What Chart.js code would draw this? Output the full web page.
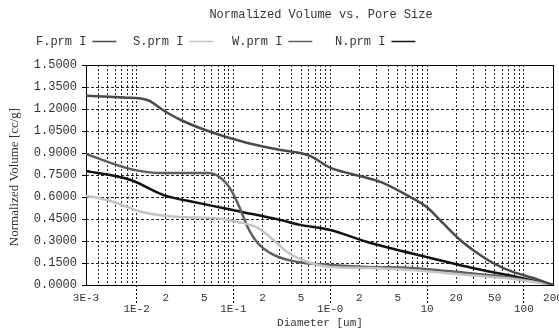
<!DOCTYPE html>
<html>
<head>
<meta charset="utf-8">
<script src="https://cdn.jsdelivr.net/npm/chart.js@4.4.0/dist/chart.umd.min.js"></script>
<style>
  html, body { margin: 0; padding: 0; background: #fff; }
</style>
</head>
<body>
<canvas id="myChart" width="559" height="331"></canvas>
<script>
// series: diameter [um] / normalized volume [cc/g]
const seriesNames = ['F.prm I', 'S.prm I', 'W.prm I', 'N.prm I'];
const seriesColors = ['#4a4a4a', '#c4c4c4', '#5e5e5e', '#121212'];

const fDiam = [0.003, 0.0045, 0.0075, 0.0131, 0.019, 0.0286, 0.0627, 0.14, 0.307, 0.49, 0.62, 1.0, 2.42, 3.54, 6.7, 10, 14.7, 22, 33, 48, 77, 125, 200];
const fVol  = [1.29, 1.285, 1.278, 1.26, 1.19, 1.125, 1.036, 0.968, 0.92, 0.90, 0.88, 0.80, 0.73, 0.695, 0.60, 0.53, 0.42, 0.307, 0.218, 0.15, 0.089, 0.048, 0.0];

const sDiam = [0.003, 0.0036, 0.0058, 0.011, 0.0286, 0.0627, 0.11, 0.178, 0.26, 0.36, 0.58, 1.0, 2.42, 6.7, 26, 77, 200];
const sVol  = [0.607, 0.60, 0.566, 0.50, 0.464, 0.457, 0.43, 0.39, 0.307, 0.225, 0.157, 0.123, 0.116, 0.102, 0.068, 0.041, 0.0];

const wDiam = [0.003, 0.0087, 0.019, 0.054, 0.074, 0.094, 0.119, 0.14, 0.178, 0.26, 0.46, 1.0, 2.42, 6.7, 26, 77, 200];
const wVol  = [0.893, 0.79, 0.763, 0.763, 0.73, 0.65, 0.51, 0.395, 0.286, 0.205, 0.157, 0.136, 0.123, 0.116, 0.082, 0.048, 0.0];

const nDiam = [0.003, 0.0087, 0.019, 0.043, 0.119, 0.307, 0.49, 1.0, 2.42, 10, 38, 85, 200];
const nVol  = [0.777, 0.716, 0.613, 0.56, 0.50, 0.443, 0.41, 0.375, 0.293, 0.19, 0.10, 0.055, 0.0];

// axes
const yTicks = [0, 0.15, 0.3, 0.45, 0.6, 0.75, 0.9, 1.05, 1.2, 1.35, 1.5];
const xGrid = [0.003, 0.004, 0.005, 0.006, 0.007, 0.008, 0.009,
               0.01, 0.02, 0.03, 0.04, 0.05, 0.06, 0.07, 0.08, 0.09,
               0.1, 0.2, 0.3, 0.4, 0.5, 0.6, 0.7, 0.8, 0.9,
               1, 2, 3, 4, 5, 6, 7, 8, 9,
               10, 20, 30, 40, 50, 60, 70, 80, 90,
               100, 200];
const xMajors = [0.01, 0.1, 1, 10, 100];
const xLabelValues = [0.003, 0.01, 0.02, 0.05, 0.1, 0.2, 0.5, 1, 2, 5, 10, 20, 50, 100, 200];
const xLabelTexts  = ['3E-3', '1E-2', '2', '5', '1E-1', '2', '5', '1E-0', '2', '5', '10', '20', '50', '100', '200'];
const xLabelRows   = [0, 1, 0, 0, 1, 0, 0, 1, 0, 0, 1, 0, 0, 1, 0];

const mono = '"Liberation Mono", "DejaVu Sans Mono", monospace';

function toPoints(d, v) {
  return d.map((x, i) => ({ x: x, y: v[i] }));
}

const decor = {
  id: 'decor',
  beforeDatasetsDraw(chart) {
    const a = chart.chartArea;
    const ctx = chart.ctx;
    ctx.save();
    ctx.strokeStyle = '#000';
    ctx.lineWidth = 1;
    ctx.strokeRect(Math.round(a.left) + 0.5, Math.round(a.top) + 0.5,
      Math.round(a.right - a.left), Math.round(a.bottom - a.top));
    ctx.restore();
  },
  afterDraw(chart) {
    const ctx = chart.ctx;
    const xs = chart.scales.x;
    const a = chart.chartArea;
    ctx.save();
    ctx.fillStyle = '#333';
    ctx.textBaseline = 'middle';

    // title
    ctx.font = '12px ' + mono;
    ctx.textAlign = 'center';
    ctx.fillText('Normalized Volume vs. Pore Size', 321, 15);

    // legend
    const legX = [36, 133, 232, 335];
    ctx.textAlign = 'left';
    seriesNames.forEach((name, i) => {
      ctx.fillStyle = '#333';
      ctx.fillText(name, legX[i], 42);
      const w = ctx.measureText(name).width;
      ctx.strokeStyle = seriesColors[i];
      ctx.lineWidth = 1.5;
      ctx.beginPath();
      ctx.moveTo(legX[i] + w + 6, 41.5);
      ctx.lineTo(legX[i] + w + 30, 41.5);
      ctx.stroke();
    });

    // x tick labels, two rows
    ctx.fillStyle = '#333';
    ctx.font = '11px ' + mono;
    ctx.textAlign = 'center';
    xLabelValues.forEach((v, i) => {
      const px = xs.getPixelForValue(v);
      ctx.fillText(xLabelTexts[i], px, xLabelRows[i] ? a.bottom + 24 : a.bottom + 13);
    });

    // axis titles
    ctx.font = '11px ' + mono;
    ctx.fillText('Diameter [um]', 320, 323);
    ctx.font = '13px "Liberation Serif", "DejaVu Serif", serif';
    ctx.translate(15, 177);
    ctx.rotate(-Math.PI / 2);
    ctx.fillText('Normalized Volume [cc/g]', 0, 0);
    ctx.restore();
  }
};

const datasets = [
  { label: seriesNames[0], data: toPoints(fDiam, fVol), borderColor: seriesColors[0] },
  { label: seriesNames[1], data: toPoints(sDiam, sVol), borderColor: seriesColors[1] },
  { label: seriesNames[2], data: toPoints(wDiam, wVol), borderColor: seriesColors[2] },
  { label: seriesNames[3], data: toPoints(nDiam, nVol), borderColor: seriesColors[3] },
].map(ds => Object.assign(ds, {
  borderWidth: 2.5,
  pointRadius: 0,
  fill: false,
  cubicInterpolationMode: 'monotone'
}));

const ctx = document.getElementById('myChart').getContext('2d');
new Chart(ctx, {
  type: 'line',
  data: { datasets: datasets },
  options: {
    responsive: false,
    animation: false,
    devicePixelRatio: 1,
    layout: { padding: { top: 65, right: 6, left: 0, bottom: 0 } },
    plugins: {
      legend: { display: false },
      title: { display: false },
      tooltip: { enabled: false }
    },
    scales: {
      x: {
        type: 'logarithmic',
        min: 0.003,
        max: 200,
        afterBuildTicks: scale => { scale.ticks = xGrid.map(v => ({ value: v })); },
        afterFit: scale => { scale.height = 46; },
        ticks: { display: false },
        grid: {
          color: '#222',
          lineWidth: 1,
          tickLength: 19,
          tickBorderDash: [2, 2],
          tickColor: c => (c.tick && xMajors.includes(c.tick.value)) ? '#000' : 'rgba(0,0,0,0)'
        },
        border: { display: false, dash: [2, 2] }
      },
      y: {
        type: 'linear',
        min: 0,
        max: 1.5,
        afterBuildTicks: scale => { scale.ticks = yTicks.map(v => ({ value: v })); },
        afterFit: scale => { scale.width = 86; },
        ticks: {
          color: '#333',
          font: { family: mono, size: 12 },
          padding: 5,
          callback: v => Number(v).toFixed(4)
        },
        grid: {
          color: '#222',
          lineWidth: 1,
          tickLength: 4,
          tickColor: '#000'
        },
        border: { display: false, dash: [3, 2] }
      }
    }
  },
  plugins: [decor]
});
</script>
</body>
</html>
